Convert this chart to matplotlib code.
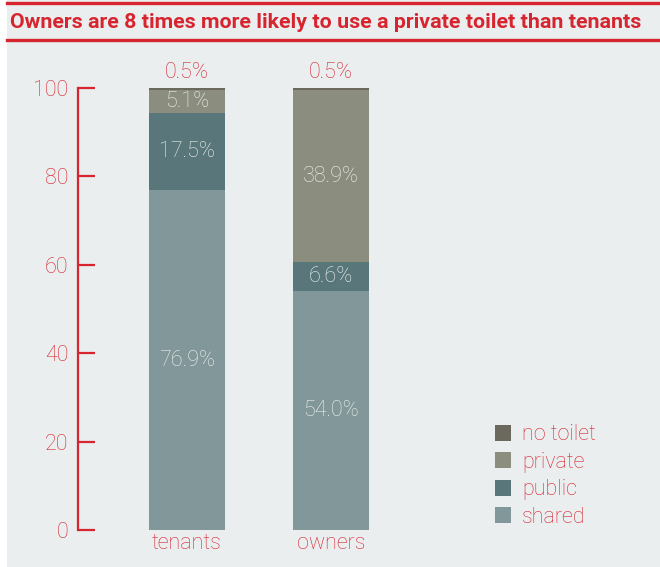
import numpy as np
import matplotlib.pyplot as plt
from matplotlib.patches import Rectangle
from matplotlib.lines import Line2D

# Data
groups = ["tenants", "owners"]
categories = ["shared", "public", "private", "no toilet"]
shared = [76.9, 54.0]
public = [17.5, 6.6]
private = [5.1, 38.9]
no_toilet = [0.5, 0.5]

colors = {"shared": "#819799", "public": "#59777A",
          "private": "#8B8E7E", "no toilet": "#6B695D"}
red = "#D72530"
bg = "#EAEEEF"
fs = 15.5

plt.rcParams["font.family"] = ["Roboto", "DejaVu Sans"]

W, H = 660, 567
fig = plt.figure(figsize=(W / 100, H / 100), dpi=100)
fig.patch.set_facecolor("white")
fig.patches.append(Rectangle((7 / W, 0), 1, 1, transform=fig.transFigure,
                             facecolor=bg, edgecolor="none", zorder=-5))

# red rules and title
for ypx in (2.5, 40):
    fig.add_artist(Line2D([7 / W, 1], [1 - ypx / H, 1 - ypx / H],
                          transform=fig.transFigure, color=red, lw=2.4))
fig.text(10 / W, 1 - 22.5 / H, "Owners are 8 times more likely to use a private toilet than tenants",
         color=red, fontsize=15.4, fontweight="bold", va="center", ha="left")

left, right = 78, 470
bottom, top = 530, 88
ax = fig.add_axes([left / W, 1 - bottom / H, (right - left) / W, (bottom - top) / H])
ax.set_facecolor("none")
ax.set_zorder(2)

x = np.arange(len(groups))
width = 76 / 144
series = [("shared", shared), ("public", public), ("private", private), ("no toilet", no_toilet)]
base = np.zeros(len(groups))
bars = {}
for name, vals in series:
    vals = np.array(vals)
    bars[name] = ax.bar(x, vals, width, bottom=base, color=colors[name], label=name, zorder=2)
    for xi, b, v in zip(x, base, vals):
        if name == "no toilet":
            ax.text(xi, b + v + 1.2, f"{v:.1f}%", ha="center", va="bottom",
                    color=red, fontsize=fs, fontweight="light")
        else:
            ax.text(xi, b + v / 2, f"{v:.1f}%", ha="center", va="center",
                    color="#EEF0EE", fontsize=fs, fontweight="light")
    base = base + vals

ax.set_xlim((left - 187) / 144, (right - 187) / 144)
ax.set_ylim(0, 100)
ax.set_yticks([0, 20, 40, 60, 80, 100])
ax.set_xticks(x)
ax.set_xticklabels(groups)
for s in ("top", "right", "bottom"):
    ax.spines[s].set_visible(False)
ax.spines["left"].set_color(red)
ax.spines["left"].set_linewidth(1.6)
ax.tick_params(axis="y", direction="in", length=12, width=1.6, color=red,
               labelcolor=red, labelsize=fs, pad=7)
ax.tick_params(axis="x", length=0, labelcolor=red, labelsize=fs, pad=2)
for lab in ax.get_yticklabels() + ax.get_xticklabels():
    lab.set_fontweight("light")

handles = [bars[n] for n in ["no toilet", "private", "public", "shared"]]
leg = ax.legend(handles, ["no toilet", "private", "public", "shared"],
                loc="upper left", bbox_to_anchor=(478 / W, 1 - 407 / H),
                bbox_transform=fig.transFigure, frameon=False, fontsize=fs,
                handlelength=0.75, handleheight=0.75, handletextpad=0.5,
                labelspacing=0.3, labelcolor=red, borderpad=0.3)
for t in leg.get_texts():
    t.set_fontweight("light")

fig.savefig("out.png", dpi=100, facecolor=fig.get_facecolor())
